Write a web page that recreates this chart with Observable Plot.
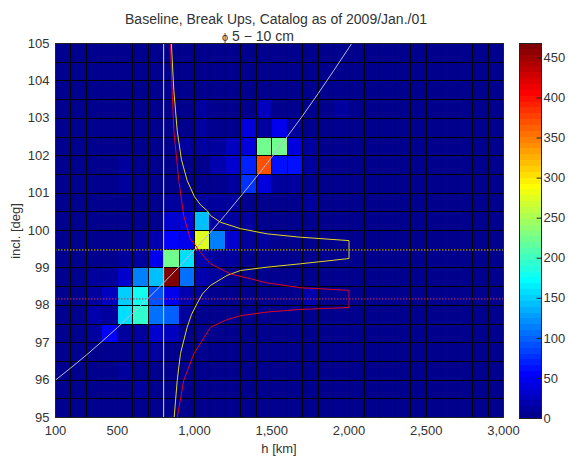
<!DOCTYPE html>
<html><head><meta charset="utf-8">
<script src="https://cdn.jsdelivr.net/npm/d3@7"></script>
<script src="https://cdn.jsdelivr.net/npm/@observablehq/plot@0.6"></script>
<style>
body{margin:0;background:#fff;}
#wrap{position:relative;width:568px;height:459px;font-family:"Liberation Sans",Arial,sans-serif;color:#333;overflow:hidden;}
#wrap svg{position:absolute;top:0;}
.t{position:absolute;white-space:nowrap;line-height:14px;}
</style></head><body><div id="wrap">
<div class="t" style="left:0;width:552px;text-align:center;top:12px;font-size:14px;">Baseline, Break Ups, Catalog as of 2009/Jan./01</div>
<div class="t" style="left:222px;top:29px;font-size:14px;"><span style="font-size:11px">ϕ</span> 5 − 10 cm</div>
<div class="t" style="left:0;width:558px;text-align:center;top:442px;font-size:13px;">h [km]</div>
<div class="t" style="left:16px;top:231px;font-size:13px;transform:translate(-50%,-50%) rotate(-90deg);">incl. [deg]</div>
</div>
<script>
// bin edges
const hEdges = [100,200,300,400,500,600,700,800,900,1000,1100,1200,1300,1400,1500,1600,1700,1800,1900,2000,2100,2200,2300,2400,2500,2600,2700,2800,2900,3000];
const inclEdges = [95,95.5,96,96.5,97,97.5,98,98.5,99,99.5,100,100.5,101,101.5,102,102.5,103,103.5,104,104.5,105];
const xTicks = [100,500,1000,1500,2000,2500,3000];
const yTicks = [95,96,97,98,99,100,101,102,103,104,105];
const cbTicks = [0,50,100,150,200,250,300,350,400,450];
const cmax = 468;

// counts per cell, rows from bottom (95.0-95.5) to top (104.5-105), columns h = 100..2900
const r95_0  = [5,5,5,5,5,5,5,5,5,5,5,5,5,5,5,5,5,5,5,5,5,5,5,5,5,5,5,5,5];
const r95_5  = [5,5,5,5,5,9,5,5,5,5,5,5,5,5,5,5,5,5,5,5,5,5,5,5,5,5,5,5,5];
const r96_0  = [5,5,5,5,9,5,5,5,5,5,5,5,5,5,5,5,5,5,5,5,5,5,5,5,5,5,5,5,5];
const r96_5  = [5,5,5,5,5,11,9,5,5,5,5,5,5,5,5,5,5,5,5,5,5,5,5,5,5,5,5,5,5];
const r97_0  = [5,5,11,55,11,11,30,22,5,5,5,5,5,5,5,5,5,5,5,5,5,5,5,5,5,5,5,5,5];
const r97_5  = [5,5,18,11,157,194,106,99,11,5,5,5,5,5,5,5,5,5,5,5,5,5,5,5,5,5,5,5,5];
const r98_0  = [5,5,14,22,150,179,95,44,18,11,5,5,5,5,5,5,18,5,5,5,5,5,5,5,5,5,5,5,5];
const r98_5  = [5,5,9,11,35,113,142,464,106,18,9,5,5,5,5,5,5,5,5,5,5,5,5,5,5,5,5,5,5];
const r99_0  = [5,5,5,5,11,14,51,220,157,18,14,9,5,5,5,5,5,5,5,5,5,5,5,5,5,5,5,5,5];
const r99_5  = [5,5,5,5,5,9,18,55,44,274,110,33,14,9,5,5,5,5,5,5,5,5,5,5,5,5,5,5,5];
const r100_0 = [5,5,5,5,5,5,5,30,37,142,14,11,9,5,5,5,5,5,5,5,5,5,5,5,5,5,5,5,5];
const r100_5 = [5,5,5,5,5,5,5,9,11,11,9,9,5,5,5,5,9,5,5,5,5,5,5,5,5,5,5,5,5];
const r101_0 = [5,5,5,5,9,5,5,5,5,5,5,11,77,37,14,11,5,5,5,5,5,5,5,5,5,5,5,5,5];
const r101_5 = [5,5,5,5,9,5,5,5,5,5,18,30,66,369,62,62,9,5,5,5,5,5,5,5,5,5,5,5,5];
const r102_0 = [5,5,5,5,5,5,5,5,9,11,14,22,40,220,220,40,11,5,5,5,5,5,5,5,5,5,5,5,5];
const r102_5 = [5,5,5,5,5,5,5,5,6,11,6,6,37,11,44,11,5,5,5,5,5,5,5,5,5,5,5,5,5];
const r103_0 = [5,5,5,5,5,5,5,5,5,9,5,5,5,26,5,5,5,5,11,5,5,5,5,5,5,5,5,5,5];
const r103_5 = [5,5,5,5,5,5,5,5,6,6,5,5,5,6,5,5,5,5,5,5,5,5,5,5,5,5,5,5,5];
const r104_0 = [5,5,5,5,5,5,5,5,5,5,5,5,5,5,5,5,5,5,5,5,5,5,5,5,5,5,5,5,5];
const r104_5 = [5,5,5,5,5,5,5,5,5,5,5,5,5,5,5,5,5,5,5,5,5,5,5,5,5,5,5,5,5];
const countRows = [r95_0,r95_5,r96_0,r96_5,r97_0,r97_5,r98_0,r98_5,r99_0,r99_5,r100_0,r100_5,r101_0,r101_5,r102_0,r102_5,r103_0,r103_5,r104_0,r104_5];

// overlay curves
const ssoH    = [100,200,300,400,500,600,700,800,900,1000,1100,1200,1300,1400,1500,1600,1700,1800,1900,2000,2020];
const ssoIncl = [96.00,96.33,96.67,97.03,97.40,97.79,98.19,98.60,99.03,99.48,99.94,100.42,100.92,101.43,101.96,102.51,103.07,103.66,104.27,104.89,105.02];
const yellowH    = [850,866,888,915,952,1000,1040,1082,1103,1168,1297,1470,1686,2000,2000,1686,1470,1297,1211,1103,1050,1017,980,952,909,888,868];
const yellowIncl = [105.0,103.74,102.67,101.9,101.34,100.9,100.68,100.53,100.40,100.22,100.05,99.91,99.82,99.73,99.25,99.11,99.02,98.93,98.80,98.53,98.30,98.05,97.75,97.41,96.71,95.99,95.0];
const redH    = [844,855,866,898,930,970,1038,1103,1233,1470,1686,2000,2000,1686,1470,1297,1211,1103,995,930,888];
const redIncl = [105.0,103.74,102.67,101.34,100.4,99.8,99.42,99.11,98.84,98.60,98.47,98.40,97.94,97.89,97.82,97.72,97.62,97.41,96.70,95.99,95.0];
const vLineH = 800;
const yellowDotIncl = 99.48;
const redDotIncl = 98.17;

function jet(t) {
  const k = Math.max(0, Math.min(63, Math.floor(t * 64)));
  const u = (k + 1) / 64;
  const c = x => Math.round(255 * Math.max(0, Math.min(1, x)));
  return `rgb(${c(1.5 - Math.abs(4*u - 3))},${c(1.5 - Math.abs(4*u - 2))},${c(1.5 - Math.abs(4*u - 1))})`;
}

const cells = [];
countRows.forEach((row, r) => row.forEach((v, c) => cells.push({h0: hEdges[c], h1: hEdges[c+1], i0: inclEdges[r], i1: inclEdges[r+1], v})));
const sso = ssoH.map((h, i) => ({h, i: ssoIncl[i]}));
const yellow = yellowH.map((h, i) => ({h, i: yellowIncl[i]}));
const red = redH.map((h, i) => ({h, i: redIncl[i]}));

const font = {fontFamily: '"Liberation Sans", Arial, sans-serif', fontSize: "13px", color: "#333", background: "transparent", overflow: "visible"};

const main = Plot.plot({
  width: 568, height: 459,
  marginLeft: 55, marginRight: 65, marginTop: 43, marginBottom: 42,
  style: font,
  x: {domain: [100, 3000], ticks: xTicks, tickFormat: d3.format(","), tickSize: 0, tickPadding: 8, label: null},
  y: {domain: [95, 105], ticks: yTicks, tickSize: 0, tickPadding: 6, label: null},
  color: {type: "linear", domain: [0, cmax], interpolate: jet},
  marks: [
    Plot.rect(cells, {x1: "h0", x2: "h1", y1: "i0", y2: "i1", fill: "v", shapeRendering: "crispEdges"}),
    Plot.ruleX(hEdges, {stroke: "#000", strokeWidth: 1, shapeRendering: "crispEdges"}),
    Plot.ruleY(inclEdges, {stroke: "#000", strokeWidth: 1, shapeRendering: "crispEdges"}),
    Plot.ruleY([yellowDotIncl], {stroke: "#d4c832", strokeWidth: 1, strokeDasharray: "1.5,1.5"}),
    Plot.ruleY([redDotIncl], {stroke: "#c83050", strokeWidth: 1, strokeDasharray: "1.5,1.5"}),
    Plot.ruleX([vLineH], {stroke: "#e6dca0"}),
    Plot.line(sso, {x: "h", y: "i", stroke: "#b8b8e4", strokeWidth: 1, clip: true}),
    Plot.line(yellow, {x: "h", y: "i", stroke: "#e0d820", strokeWidth: 1, clip: true}),
    Plot.line(red, {x: "h", y: "i", stroke: "#e00020", strokeWidth: 1, clip: true}),
    Plot.frame({stroke: "#222"})
  ]
});

const bands = d3.range(64).map(k => ({b0: k * cmax / 64, b1: (k + 1) * cmax / 64, v: (k + 0.5) * cmax / 64}));
const cbar = Plot.plot({
  width: 49, height: 459,
  marginLeft: 0, marginRight: 27, marginTop: 43, marginBottom: 41,
  style: font,
  x: {domain: [0, 1], axis: null},
  y: {domain: [0, cmax], ticks: cbTicks, tickSize: 0, tickPadding: 2, axis: "right", label: null},
  color: {type: "linear", domain: [0, cmax], interpolate: jet},
  marks: [
    Plot.rect(bands, {x1: 0, x2: 1, y1: "b0", y2: "b1", fill: "v", shapeRendering: "crispEdges"}),
    Plot.ruleY(cbTicks, {x1: 0.8, x2: 1, stroke: "#222"}),
    Plot.frame({stroke: "#222"})
  ]
});

const wrap = document.getElementById("wrap");
main.style.left = "0px";
cbar.style.left = "519px";
wrap.prepend(cbar);
wrap.prepend(main);
</script>
</body></html>
